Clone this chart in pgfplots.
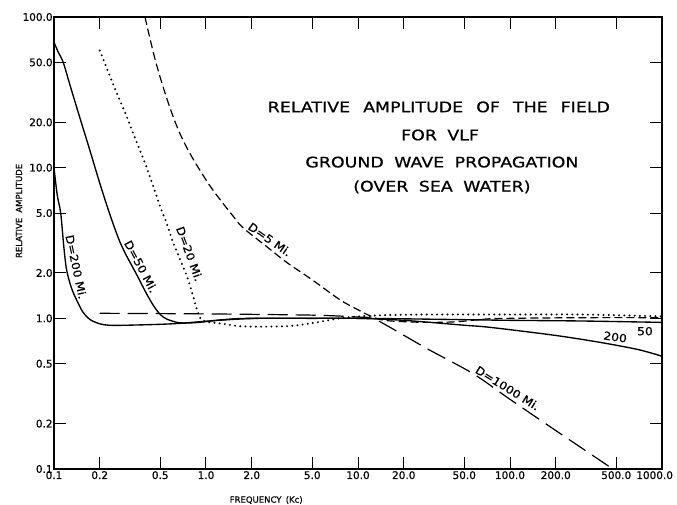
\documentclass[border=0pt]{standalone}
\usepackage{fontspec}
\setmainfont{DejaVu Sans}[FakeBold=0.6]
\usepackage{graphicx}
\usepackage{pgfplots}
\pgfplotsset{compat=1.18}

\newcommand{\tfont}{\fontsize{14.5bp}{16bp}\selectfont}
\newcommand{\cfont}{\fontsize{11bp}{12bp}\selectfont}
\newcommand{\ttl}[1]{\scalebox{1.2}[1]{\tfont #1}}
\newcommand{\crv}[1]{\scalebox{1.12}[1]{\cfont #1}}

\begin{document}
\begin{tikzpicture}
\begin{axis}[
  at={(0,0)}, anchor=south west,
  xmode=log, ymode=log,
  scale only axis,
  width=608bp, height=452bp,
  xmin=0.1, xmax=1000, ymin=0.1, ymax=100,
  xtick={0.1,0.2,0.5,1,2,5,10,20,50,100,200,500,1000},
  xticklabels={0.1,0.2,0.5,1.0,2.0,5.0,10.0,20.0,50.0,100.0,200.0,500.0,\makebox[22bp][r]{1000.0}},
  ytick={0.1,0.2,0.5,1,2,5,10,20,50,100},
  yticklabels={0.1,0.2,0.5,1.0,2.0,5.0,10.0,20.0,50.0,100.0},
  minor xtick={}, minor ytick={},
  tick align=inside,
  major tick length=12bp,
  tick style={line width=1bp, black},
  axis line style={line width=1.3bp},
  ticklabel style={font=\fontsize{10.5bp}{12bp}\selectfont},
  yticklabel style={inner sep=1.2bp},
  xticklabel style={inner sep=2bp},
  clip=false,
]

% D = 200 mi (solid)
\addplot[black, line width=1.35bp, smooth, tension=0.5] coordinates {
  (0.1,10) (0.105,6.6) (0.1107,5.0) (0.116,3.0) (0.121,2.1) (0.13,1.6)
  (0.141,1.32) (0.155,1.1) (0.173,0.98) (0.2,0.92) (0.23,0.9) (0.3,0.9)
  (0.6,0.92) (1.2,0.97) (2.2,1.0) (5,1.0) (10,1.0) (20,0.97) (50,0.9)
  (75,0.87) (200,0.77) (400,0.69) (700,0.62) (1000,0.56)
};

% D = 50 mi (solid)
\addplot[black, line width=1.35bp, smooth, tension=0.5] coordinates {
  (0.1,68) (0.107,58) (0.115,50) (0.13,33) (0.15,20.5) (0.172,13.1)
  (0.2,7.9) (0.227,5.3) (0.25,4.0) (0.272,3.2) (0.3,2.6) (0.35,1.95)
  (0.4,1.5) (0.45,1.22) (0.5,1.06) (0.55,0.99) (0.62,0.95) (0.7,0.93)
  (0.9,0.94) (1.3,0.98) (2,1.0) (10,1.0) (50,0.98) (100,0.97) (300,0.96)
  (1000,0.94)
};

% D = 20 mi (dotted)
\addplot[black, line width=2.2bp, line cap=round, dash pattern=on 0bp off 5.2bp, smooth, tension=0.5] coordinates {
  (0.2,60) (0.25,34) (0.3,22) (0.331,17) (0.4,10.5) (0.45,7.5) (0.5,5.5)
  (0.55,4.3) (0.6,3.3) (0.65,2.7) (0.7,2.25) (0.75,1.9) (0.8,1.55)
  (0.87,1.15) (0.92,1.0) (1.0,0.95) (1.3,0.92) (1.6,0.89) (2.2,0.88)
  (3.6,0.89) (5,0.93) (6,0.96) (7.6,1.0) (10,1.03) (15,1.05) (30,1.06)
  (100,1.06) (300,1.06) (1000,1.03)
};

% D = 5 mi (dashed)
\addplot[black, line width=1.2bp, dash pattern=on 8bp off 4bp, smooth, tension=0.6] coordinates {
  (0.397,100) (0.476,47) (0.606,22) (0.75,13.5) (1.0,8.3) (1.2,6.4)
  (1.5,4.8) (1.75,4.0) (2.5,3.0) (3.4,2.35) (5,1.8) (7.6,1.33) (10,1.14)
  (12.5,1.02) (15,0.97) (20,0.95) (30,0.94) (45,0.95) (70,0.99) (100,1.0)
  (300,1.01) (1000,1.01)
};

% D = 1000 mi (long dashes)
\addplot[black, line width=1.2bp, dash pattern=on 20bp off 8bp, smooth, tension=0.5] coordinates {
  (0.2,1.08) (1,1.07) (5,1.05) (10,1.02) (12.5,1.0) (16.3,0.87) (28.4,0.63)
  (57,0.43) (100,0.29) (200,0.18) (475,0.1)
};

% curve labels
\node[rotate=-78] at (rel axis cs:0.0365,0.447) {\crv{D=200 Mi.}};
\node[rotate=-62] at (rel axis cs:0.143,0.448) {\crv{D=50 Mi.}};
\node[rotate=-70] at (rel axis cs:0.223,0.476) {\crv{D=20 Mi.}};
\node[rotate=-35] at (rel axis cs:0.355,0.508) {\crv{D=5 Mi.}};
\node[rotate=-32] at (rel axis cs:0.746,0.179) {\crv{D=1000 Mi.}};
\node[rotate=-8] at (rel axis cs:0.923,0.292) {\crv{200}};
\node at (rel axis cs:0.972,0.305) {\crv{50}};

% title block
\node at (rel axis cs:0.633,0.801) {\ttl{RELATIVE\hspace{0.75em}AMPLITUDE\hspace{0.75em}OF\hspace{0.75em}THE\hspace{0.75em}FIELD}};
\node at (rel axis cs:0.635,0.739) {\ttl{FOR\hspace{0.6em}VLF}};
\node at (rel axis cs:0.638,0.679) {\ttl{GROUND\hspace{0.6em}WAVE\hspace{0.6em}PROPAGATION}};
\node at (rel axis cs:0.638,0.624) {\ttl{(OVER\hspace{0.6em}SEA\hspace{0.6em}WATER)}};

% axis titles
\node[font=\fontsize{8.5bp}{10bp}\selectfont] at (rel axis cs:0.349,-0.0686) {FREQUENCY\hspace{0.5em}(Kc)};
\node[font=\fontsize{8.5bp}{10bp}\selectfont, rotate=90] at (rel axis cs:-0.0576,0.571) {RELATIVE\hspace{0.6em}AMPLITUDE};
\end{axis}
\pgfresetboundingbox
\path[use as bounding box] (-54bp,-36bp) rectangle (623bp,469bp);
\end{tikzpicture}
\end{document}
